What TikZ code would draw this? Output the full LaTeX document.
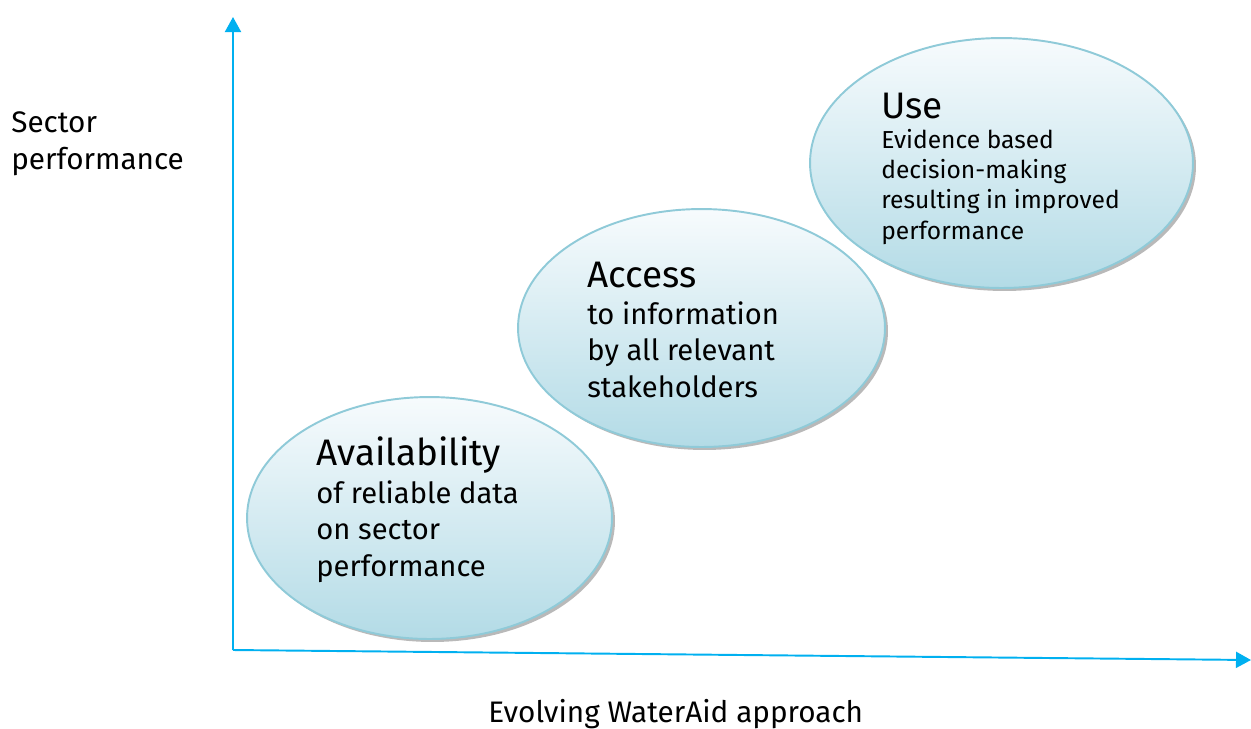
\documentclass[tikz,border=0pt]{standalone}
\usepackage{fontspec}
\setmainfont{Fira Sans}
\usetikzlibrary{shapes.geometric,shadows,arrows.meta}

\definecolor{axisblue}{HTML}{00B0F0}
\definecolor{bubbleline}{HTML}{8FCAD8}
\definecolor{bubbletop}{HTML}{F7FBFD}
\definecolor{bubblebot}{HTML}{B3DBE6}

\tikzset{
  bubble/.style={
    ellipse, inner sep=0pt,
    draw=bubbleline, line width=1.1pt,
    top color=bubbletop, bottom color=bubblebot,
    drop shadow={shadow xshift=0.06cm, shadow yshift=-0.06cm,
                 fill=black!50, opacity=0.55}
  },
  axis/.style={
    draw=axisblue, line width=1.1pt,
    -{Triangle[length=0.3cm,width=0.32cm]}
  },
  % multi-line nodes: base = baseline of the last line
  headtext/.style={inner sep=0pt, anchor=base west,
                   font=\fontsize{21}{25}\selectfont},
  bodytext/.style={inner sep=0pt, anchor=base west, align=left,
                   font=\fontsize{16.6}{20.7}\selectfont},
  smalltext/.style={inner sep=0pt, anchor=base west, align=left,
                    font=\fontsize{14}{17.2}\selectfont},
  axislabel/.style={inner sep=0pt, anchor=base west, align=left,
                    font=\fontsize{16.9}{21}\selectfont}
}

\begin{document}
\begin{tikzpicture}[x=0.02cm, y=-0.02cm] % 1 unit = 1 px of the reference
  \useasboundingbox (0,0) rectangle (1251,728);

  % axes
  \coordinate (origin) at (233,650);
  \coordinate (ytop)   at (233,17);
  \coordinate (xend)   at (1251,660);
  \draw[axis] (origin) -- (ytop);
  \draw[axis] (origin) -- (xend);

  % the three bubbles
  \node[bubble, minimum width=7.3cm,  minimum height=4.84cm] (avail)  at (429.5,518) {};
  \node[bubble, minimum width=7.34cm, minimum height=4.76cm] (access) at (701.5,328) {};
  \node[bubble, minimum width=7.66cm, minimum height=5.0cm]  (use)    at (1001.5,163) {};

  % texts in the bubbles
  \node[headtext] (availT) at (316,465) {Availability};
  \node[bodytext] (availB) at (316,576) {of reliable data\\on sector\\performance};

  \node[headtext] (accessT) at (587,287) {Access};
  \node[bodytext] (accessB) at (587,397) {to information\\by all relevant\\stakeholders};

  \node[headtext]  (useT) at (881,118) {Use};
  \node[smalltext] (useB) at (881,239) {Evidence based\\decision-making\\resulting in improved\\performance};

  % axis labels
  \node[axislabel] (ylabel) at (11,169) {Sector\\performance};
  \node[axislabel] (xlabel) at (488,722) {Evolving WaterAid approach};
\end{tikzpicture}
\end{document}
